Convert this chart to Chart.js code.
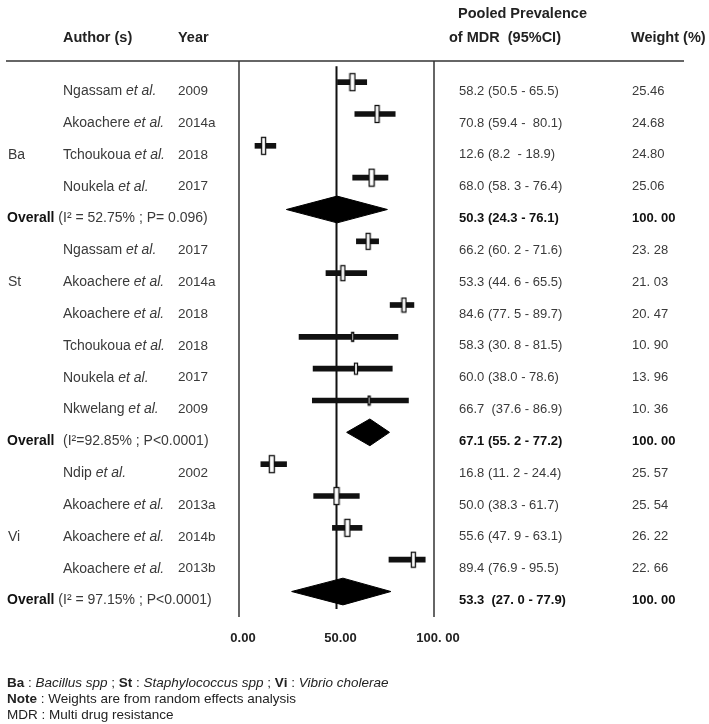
<!DOCTYPE html>
<html><head><meta charset="utf-8">
<script src="https://cdn.jsdelivr.net/npm/chart.js@4.4.1/dist/chart.umd.min.js"></script>
<style>html,body{margin:0;padding:0;background:#fff;}#wrap{position:relative;width:709px;height:724px;}</style>
</head><body><div id="wrap"><canvas id="c" width="709" height="724"></canvas></div>
<script>
// ---------- DATA ----------
const groupNames = ["Ba", "St", "Vi"];
const groups  = ["Ba","Ba","Ba","Ba","St","St","St","St","St","St","Vi","Vi","Vi","Vi"];
const authors = ["Ngassam","Akoachere","Tchoukoua","Noukela","Ngassam","Akoachere","Akoachere","Tchoukoua","Noukela","Nkwelang","Ndip","Akoachere","Akoachere","Akoachere"];
const years   = ["2009","2014a","2018","2017","2017","2014a","2018","2018","2017","2009","2002","2013a","2014b","2013b"];
const estimates = [58.2, 70.8, 12.6, 68.0, 66.2, 53.3, 84.6, 58.3, 60.0, 66.7, 16.8, 50.0, 55.6, 89.4];
const lowerCI   = [50.5, 59.4,  8.2, 58.3, 60.2, 44.6, 77.5, 30.8, 38.0, 37.6, 11.2, 38.3, 47.9, 76.9];
const upperCI   = [65.5, 80.1, 18.9, 76.4, 71.6, 65.5, 89.7, 81.5, 78.6, 86.9, 24.4, 61.7, 63.1, 95.5];
const weights   = [25.46, 24.68, 24.80, 25.06, 23.28, 21.03, 20.47, 10.90, 13.96, 10.36, 25.57, 25.54, 26.22, 22.66];
const ciText = ["58.2 (50.5 - 65.5)", "70.8 (59.4 -  80.1)", "12.6 (8.2  - 18.9)", "68.0 (58. 3 - 76.4)",
  "66.2 (60. 2 - 71.6)", "53.3 (44. 6 - 65.5)", "84.6 (77. 5 - 89.7)", "58.3 (30. 8 - 81.5)", "60.0 (38.0 - 78.6)", "66.7  (37.6 - 86.9)",
  "16.8 (11. 2 - 24.4)", "50.0 (38.3 - 61.7)", "55.6 (47. 9 - 63.1)", "89.4 (76.9 - 95.5)"];
const weightText = ["25.46","24.68","24.80","25.06","23. 28","21. 03","20. 47","10. 90","13. 96","10. 36","25. 57","25. 54","26. 22","22. 66"];
const groupLabelPos = [2, 1, 2];
const pooledEst = [50.3, 67.1, 53.3];
const pooledLo  = [24.3, 55.2, 27.0];
const pooledHi  = [76.1, 77.2, 77.9];
const pooledText = ["50.3 (24.3 - 76.1)", "67.1 (55. 2 - 77.2)", "53.3  (27. 0 - 77.9)"];
const pooledHet  = ["(I\u00B2 = 52.75% ; P= 0.096)", "(I\u00B2=92.85% ; P<0.0001)", "(I\u00B2 = 97.15% ; P<0.0001)"];
const pooledWeightText = ["100. 00", "100. 00", "100. 00"];
const tickValues = [0, 50, 100];
const tickLabels = ["0.00", "50.00", "100. 00"];
const referenceValue = 50;

// ---------- STYLE ----------
const FONT = "'Liberation Sans', Arial, sans-serif";
const TEXT_DY = 9;
const DIAMOND_HALF = 0.42;

// ---------- ROWS ----------
const rows = [];
groupNames.forEach((g, gi) => {
  groups.forEach((gg, i) => { if (gg === g) rows.push({type: 'study', i, g: gi}); });
  rows.push({type: 'pooled', g: gi});
});
const rowOf = {}; const pooledRow = [];
rows.forEach((r, k) => { if (r.type === 'study') rowOf[r.i] = k; else pooledRow[r.g] = k; });
const lastRow = rows.length - 1;

function markerFor(w) {
  const h = Math.round(4 + w * 0.55), wd = Math.max(3, Math.round(1.5 + w * 0.16));
  const c = document.createElement('canvas'); c.width = wd + 2; c.height = h + 2;
  const x = c.getContext('2d');
  x.fillStyle = '#fff'; x.fillRect(1, 1, wd, h);
  x.strokeStyle = '#111'; x.lineWidth = 1.3; x.strokeRect(1.5, 1.5, wd - 1, h - 1);
  return c;
}

const datasets = [
  {type: 'line', data: [{x: referenceValue, y: -0.5}, {x: referenceValue, y: lastRow + 0.55}],
   borderColor: '#111', borderWidth: 2, pointRadius: 0, fill: false, order: 9},
  {type: 'bar', indexAxis: 'y', data: estimates.map((e, i) => ({x: [lowerCI[i], upperCI[i]], y: rowOf[i]})),
   backgroundColor: '#111', barThickness: 5, borderWidth: 0, order: 4},
  {type: 'scatter', data: estimates.map((e, i) => ({x: e, y: rowOf[i]})),
   pointStyle: weights.map(w => markerFor(w)), pointRadius: 6, order: 1}
];
pooledEst.forEach((e, g) => {
  const r = pooledRow[g];
  datasets.push({type: 'line', data: [{x: pooledLo[g], y: r}, {x: e, y: r - DIAMOND_HALF}, {x: pooledHi[g], y: r}],
    borderColor: '#000', borderWidth: 1, backgroundColor: '#000', pointRadius: 0, fill: false, tension: 0, order: 3});
  datasets.push({type: 'line', data: [{x: pooledLo[g], y: r}, {x: e, y: r + DIAMOND_HALF}, {x: pooledHi[g], y: r}],
    borderColor: '#000', borderWidth: 1, backgroundColor: '#000', pointRadius: 0, fill: '-1', tension: 0, order: 3});
});

const textPlugin = {
  id: 'forestText',
  afterDraw(chart) {
    const ctx = chart.ctx, ys = chart.scales.y, ca = chart.chartArea;
    ctx.save();
    const line = (x1, y1, x2, y2) => { ctx.beginPath(); ctx.moveTo(x1, y1); ctx.lineTo(x2, y2); ctx.stroke(); };
    ctx.strokeStyle = '#666'; ctx.lineWidth = 2; line(6, 61, 684, 61);
    ctx.strokeStyle = '#333'; ctx.lineWidth = 1.5;
    line(ca.left, 61, ca.left, ca.bottom); line(ca.right, 61, ca.right, ca.bottom);

    ctx.textBaseline = 'middle'; ctx.textAlign = 'left';
    const put = (t, x, y, style) => { ctx.font = style; ctx.fillText(t, x, y); return ctx.measureText(t).width; };
    const N = `14px ${FONT}`, I = `italic 14px ${FONT}`, B = `bold 14px ${FONT}`;
    const NY = `13.5px ${FONT}`;
    const NV = `13px ${FONT}`, BV = `bold 13px ${FONT}`, NW = `13px ${FONT}`, BW = `bold 13px ${FONT}`;
    const H = `bold 14.5px ${FONT}`;
    // header
    ctx.fillStyle = '#222';
    put('Author (s)', 63, 38, H); put('Year', 178, 38, H);
    put('Pooled Prevalence', 458, 14, H); put('of MDR  (95%CI)', 449, 38, H);
    put('Weight (%)', 631, 38, H);

    rows.forEach((r, k) => {
      const y = ys.getPixelForValue(k) + TEXT_DY;
      if (r.type === 'study') {
        const i = r.i;
        ctx.fillStyle = '#3a3a3a';
        const w = put(authors[i] + ' ', 63, y, N);
        put('et al.', 63 + w, y, I);
        put(years[i], 178, y, NY);
        put(ciText[i], 459, y, NV);
        put(weightText[i], 632, y, NW);
        const gStart = rows.findIndex(rr => rr.g === r.g);
        if (k - gStart === groupLabelPos[r.g]) put(groupNames[r.g], 8, y, N);
      } else {
        const g = r.g;
        ctx.fillStyle = '#111';
        const w = put('Overall ', 7, y, B);
        ctx.fillStyle = '#3a3a3a';
        put(pooledHet[g], g === 1 ? 63 : 7 + w, y, N);
        ctx.fillStyle = '#111';
        put(pooledText[g], 459, y, BV);
        put(pooledWeightText[g], 632, y, BW);
      }
    });

    // footer
    let x = 7, y = 683;
    ctx.fillStyle = '#222';
    const FN = `13.5px ${FONT}`, FI = `italic 13.5px ${FONT}`, FB = `bold 13.5px ${FONT}`;
    const segs = [['Ba', FB], [' : ', FN], ['Bacillus spp', FI], [' ; ', FN], ['St', FB], [' : ', FN], ['Staphylococcus spp', FI], [' ; ', FN], ['Vi', FB], [' : ', FN], ['Vibrio cholerae', FI]];
    segs.forEach(([t, f]) => { x += put(t, x, y, f); });
    x = 7; y = 699;
    x += put('Note', x, y, FB);
    put(' : Weights are from random effects analysis', x, y, FN);
    put('MDR : Multi drug resistance', 7, 715, FN);
    ctx.restore();
  }
};

new Chart(document.getElementById('c'), {
  type: 'scatter',
  data: {datasets},
  options: {
    responsive: false, animation: false, events: [],
    layout: {padding: {left: 239, right: 275, top: 64, bottom: 77}},
    plugins: {legend: {display: false}, tooltip: {enabled: false}},
    scales: {
      x: {type: 'linear', min: 0, max: 100, offset: false,
          afterBuildTicks: s => { s.ticks = tickValues.map(v => ({value: v})); },
          afterFit: s => { s.height = 30; },
          ticks: {callback: (v, i) => tickLabels[i], font: {family: FONT, size: 13, weight: 'bold'}, color: '#222',
                  padding: 14, maxRotation: 0, autoSkip: false, labelOffset: 4},
          grid: {display: false, drawTicks: false}, border: {display: false}},
      y: {type: 'linear', reverse: true, min: -0.57, max: 16.8, display: false, offset: false}
    }
  },
  plugins: [textPlugin]
});
</script></body></html>
